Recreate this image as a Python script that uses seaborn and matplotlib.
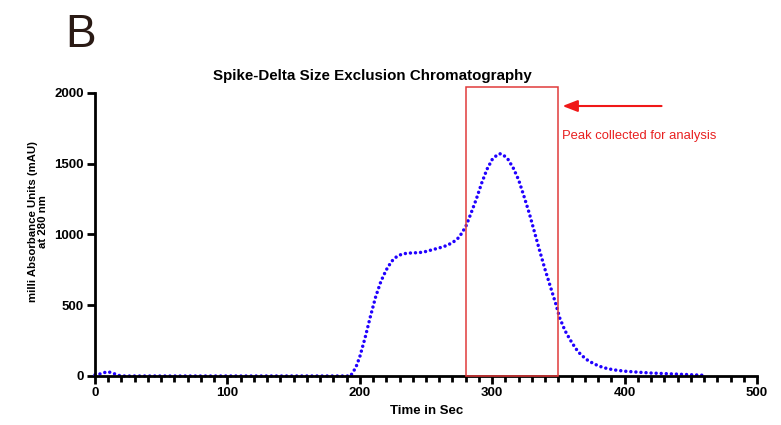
import matplotlib
matplotlib.use("Agg")
import matplotlib.pyplot as plt
import pandas as pd
import seaborn as sns

# chromatogram trace (time in s, absorbance in mAU)
time_s = [0, 3, 6, 10, 14, 18, 22, 190, 193, 197, 200, 204, 208, 212, 216, 220,
          224, 228, 232, 236, 240, 245, 250, 255, 260, 265, 270, 275, 280, 284,
          288, 292, 296, 300, 304, 306, 308, 312, 316, 320, 324, 328, 332, 336,
          340, 344, 348, 351, 355, 359, 363, 367, 372, 377, 382, 387, 393, 400,
          410, 420, 430, 440, 450, 460]
mau = [8, 12, 22, 30, 18, 4, 0, 0, 0, 60, 136, 270, 420, 560, 670, 750,
       810, 845, 862, 868, 870, 872, 880, 893, 905, 920, 942, 980, 1055, 1150,
       1250, 1362, 1460, 1530, 1565, 1570, 1566, 1530, 1468, 1385, 1270, 1150, 1015, 880,
       750, 630, 510, 410, 320, 254, 195, 150, 112, 85, 66, 52, 42, 34,
       27, 21, 17, 13, 9, 5]

peak_window = [280, 350]
box_top = 2042
arrow_start = 430
arrow_y = 1908

df = pd.DataFrame({"time": time_s, "mau": mau})

sns.set_style("ticks")
plt.rcParams["font.family"] = ["Liberation Sans", "DejaVu Sans"]
for key in ["text.color", "axes.labelcolor", "xtick.color", "ytick.color", "axes.edgecolor"]:
    plt.rcParams[key] = "black"

fig = plt.figure(figsize=(7.81, 4.25), dpi=100)
ax = fig.add_axes([0.1216, 0.1153, 0.8477, 0.6659])

sns.lineplot(data=df, x="time", y="mau", ax=ax, color="#2000ff", lw=2.5,
             linestyle=(0, (0.01, 1.45)), dash_capstyle="round", clip_on=False)

ax.set_xlim(0, 500)
ax.set_ylim(0, 2000)
ax.set_xticks(range(0, 501, 100))
ax.set_xticks(range(0, 501, 10), minor=True)
ax.set_yticks(range(0, 2001, 500))
ax.tick_params(axis="both", which="major", width=2, length=6, labelsize=9.5, pad=2)
ax.tick_params(axis="x", which="minor", width=2, length=4)
for lab in ax.get_xticklabels() + ax.get_yticklabels():
    lab.set_fontweight("bold")
for s in ["left", "bottom"]:
    ax.spines[s].set_linewidth(2)
    ax.spines[s].set_zorder(3)
sns.despine(ax=ax)
ax.set_xlabel("")
ax.set_ylabel("")

# collected peak box and arrow
ax.add_patch(plt.Rectangle((peak_window[0], 0), peak_window[1] - peak_window[0], box_top,
                           fill=False, ec="#e03a3a", lw=1.1, clip_on=False, zorder=4))
ax.annotate("", xy=(peak_window[1] + 1, arrow_y), xytext=(arrow_start, arrow_y),
            arrowprops=dict(arrowstyle="-|>,head_length=0.9,head_width=0.35",
                            color="#f01818", lw=1.5), annotation_clip=False)
ax.text(peak_window[1] + 2.5, 1696, "Peak collected for analysis", color="#e82020",
        fontsize=9.4, va="center", ha="left")

fig.text(65 / 781, 1 - 47 / 425, "B", fontsize=33, color="#2a1a14", va="baseline")
fig.text(372 / 781, 1 - 80 / 425, "Spike-Delta Size Exclusion Chromatography",
         fontsize=10.9, fontweight="bold", ha="center", va="baseline")
fig.text(427 / 781, 1 - 414 / 425, "Time in Sec", fontsize=9.5, fontweight="bold",
         ha="center", va="baseline")
fig.text(38 / 781, 1 - 222 / 425, "milli Absorbance Units (mAU)\nat 280 nm",
         fontsize=8.2, fontweight="bold", ha="center", va="center", rotation=90,
         linespacing=1.1)

fig.savefig("out.png", dpi=100)
